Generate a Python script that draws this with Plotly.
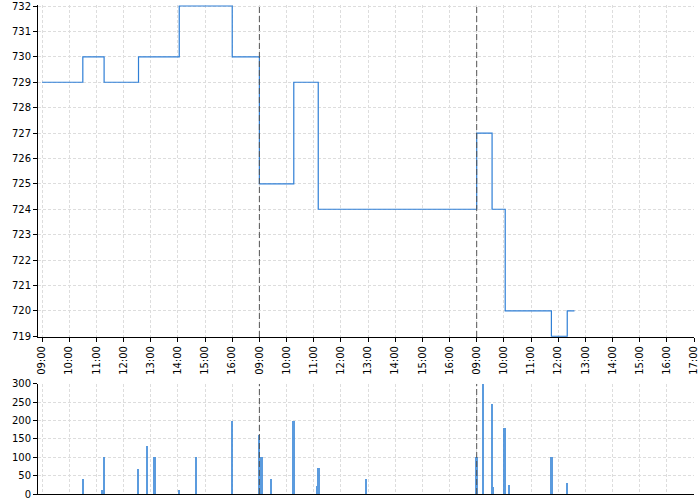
import plotly.graph_objects as go

# ---- data ----
price_times = ["1 09:00", "1 10:30", "1 11:17", "1 12:33", "1 14:03", "1 16:00",
               "2 09:00", "2 10:16", "2 11:10",
               "3 09:00", "3 09:34", "3 10:03", "3 11:45", "3 12:20", "3 12:36"]
price_values = [729, 730, 729, 730, 732, 730,
                725, 729, 724,
                727, 724, 720, 719, 720, 720]

volume_times = ["1 10:31", "1 11:13", "1 11:18", "1 12:33", "1 12:52", "1 13:09",
                "1 14:03", "1 14:40", "1 16:00",
                "2 09:00", "2 09:05", "2 09:26", "2 10:16", "2 11:08", "2 11:11", "2 12:56",
                "3 09:00", "3 09:15", "3 09:34", "3 09:36", "3 10:02", "3 10:12",
                "3 11:46", "3 12:20"]
volume_values = [40, 10, 100, 68, 132, 100,
                 10, 100, 200,
                 161, 100, 41, 200, 22, 70, 40,
                 100, 300, 246, 20, 180, 25,
                 100, 30]

tick_labels = ["09:00", "10:00", "11:00", "12:00", "13:00", "14:00", "15:00", "16:00",
               "09:00", "10:00", "11:00", "12:00", "13:00", "14:00", "15:00", "16:00",
               "09:00", "10:00", "11:00", "12:00", "13:00", "14:00", "15:00", "16:00", "17:00"]
day_breaks = ["2 09:00", "3 09:00"]

HOURS_PER_DAY = 8  # 09:00 .. 17:00 session slots


def to_pos(s):
    d, hm = s.split(" ")
    h, m = hm.split(":")
    return (int(d) - 1) * HOURS_PER_DAY + (int(h) - 9) + int(m) / 60.0


px = [to_pos(t) for t in price_times]
vx = [to_pos(t) for t in volume_times]
bx = [to_pos(t) for t in day_breaks]

LINE = "#2f7fd6"
GRID = "#dddddd"
GDASH = "3px,2px"
font = dict(family="DejaVu Sans", size=10, color="#000000")

fig = go.Figure()
fig.add_trace(go.Scatter(x=px, y=price_values, mode="lines", line=dict(shape="hv", color=LINE, width=1.2),
                         xaxis="x", yaxis="y", hoverinfo="x+y"))
fig.add_trace(go.Bar(x=vx, y=volume_values, width=0.065, marker=dict(color="#3f8ad9", line=dict(width=0)),
                     xaxis="x2", yaxis="y2", opacity=0.85))

for b in bx:
    fig.add_shape(type="line", xref="x", yref="y domain", x0=b, x1=b, y0=0, y1=1,
                  line=dict(color="#555555", width=1, dash="6px,3px"))
    fig.add_shape(type="line", xref="x2", yref="y2 domain", x0=b, x1=b, y0=0, y1=1,
                  line=dict(color="#555555", width=1, dash="6px,3px"))

xr = [-0.15, 24]
common = dict(showline=True, linecolor="#000", linewidth=1, showgrid=True, gridcolor=GRID,
              griddash=GDASH, zeroline=False, automargin=False, tickfont=font,
              ticklabeloverflow="allow")
fig.update_layout(
    width=700, height=500,
    margin=dict(l=38, r=6, t=5, b=6),
    paper_bgcolor="white", plot_bgcolor="white",
    showlegend=False, font=font, bargap=0,
    xaxis=dict(domain=[0, 1], anchor="y", range=xr, tickmode="array",
               tickvals=list(range(len(tick_labels))), ticktext=tick_labels, tickangle=-90,
               ticks="outside", ticklen=4, tickcolor="#000", **common),
    yaxis=dict(domain=[0.321, 1], anchor="x", range=[718.97, 732.04], tickmode="linear", tick0=719, dtick=1,
               ticks="outside", ticklen=4, tickcolor="#000", **common),
    xaxis2=dict(domain=[0, 1], anchor="y2", range=xr, matches="x", tickmode="array",
                tickvals=list(range(len(tick_labels))), showticklabels=False, ticks="", **common),
    yaxis2=dict(domain=[0, 0.225], anchor="x2", range=[0, 300], tickmode="linear", tick0=0, dtick=50,
                ticks="outside", ticklen=4, tickcolor="#000", **common),
)

fig.write_html("out.html", config={"displayModeBar": False},
               post_script="document.body.style.margin='0';document.body.style.padding='0';")
